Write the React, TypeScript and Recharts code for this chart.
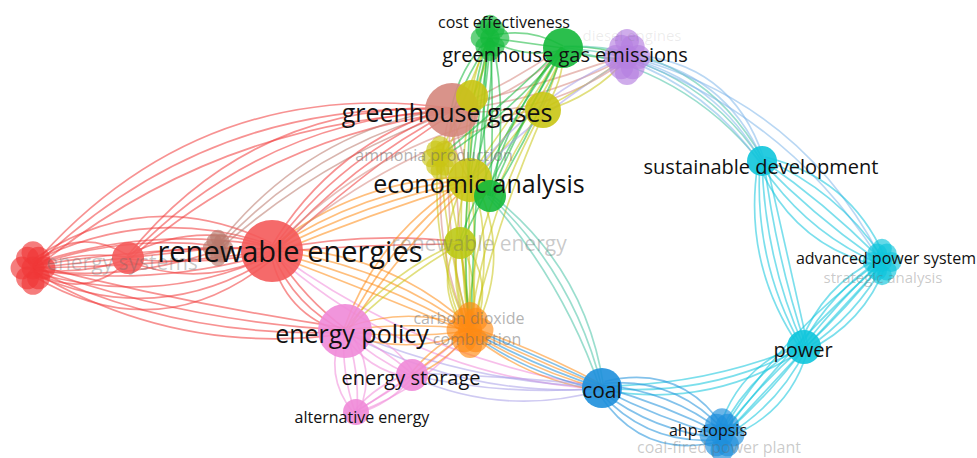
import React from 'react';
import { ScatterChart, Scatter, XAxis, YAxis } from 'recharts';

const WIDTH = 977;
const HEIGHT = 458;

const palette: Record<string, string> = {
  red: '#f03838',
  salmon: '#f45a5a',
  brown: '#b9786c',
  rose: '#d5877d',
  yellow: '#c9c514',
  lime: '#bdc916',
  green: '#14b83a',
  purple: '#b57fe0',
  cyan: '#10c5dc',
  blue: '#1d8fdb',
  orange: '#ff8a12',
  pink: '#f08ad8',
  lavender: '#a79ee8',
  teal: '#48c3a6',
  sky: '#7fb6ea',
};

// keyword nodes on the map: coordinates, weight, cluster; merged = several overlapping items
const keywords = [
  { id: 'es0', x: 33, y: 268, weight: 22, cluster: 'red', merged: true },
  { id: 'es1', x: 128, y: 258, weight: 16, cluster: 'salmon', merged: false },
  { id: 'br', x: 218, y: 248, weight: 15, cluster: 'brown', merged: true },
  { id: 're', x: 272, y: 251, weight: 31, cluster: 'salmon', merged: false },
  { id: 'gg', x: 452, y: 110, weight: 27, cluster: 'rose', merged: false },
  { id: 'y1', x: 472, y: 96, weight: 16, cluster: 'yellow', merged: false },
  { id: 'y2', x: 543, y: 110, weight: 18, cluster: 'yellow', merged: false },
  { id: 'am', x: 440, y: 158, weight: 18, cluster: 'yellow', merged: true },
  { id: 'ea', x: 470, y: 180, weight: 22, cluster: 'yellow', merged: false },
  { id: 'eg', x: 490, y: 196, weight: 16, cluster: 'green', merged: false },
  { id: 'rn', x: 460, y: 243, weight: 16, cluster: 'lime', merged: false },
  { id: 'ce', x: 490, y: 38, weight: 19, cluster: 'green', merged: true },
  { id: 'ge', x: 563, y: 48, weight: 20, cluster: 'green', merged: false },
  { id: 'de', x: 627, y: 57, weight: 23, cluster: 'purple', merged: true },
  { id: 'sd', x: 762, y: 161, weight: 15, cluster: 'cyan', merged: false },
  { id: 'ap', x: 882, y: 262, weight: 19, cluster: 'cyan', merged: true },
  { id: 'pw', x: 804, y: 347, weight: 17, cluster: 'cyan', merged: false },
  { id: 'co', x: 602, y: 388, weight: 20, cluster: 'blue', merged: false },
  { id: 'ah', x: 722, y: 435, weight: 22, cluster: 'blue', merged: true },
  { id: 'cd', x: 470, y: 330, weight: 23, cluster: 'orange', merged: true },
  { id: 'ep', x: 345, y: 331, weight: 27, cluster: 'pink', merged: false },
  { id: 'st', x: 412, y: 375, weight: 16, cluster: 'pink', merged: false },
  { id: 'ae', x: 356, y: 412, weight: 13, cluster: 'pink', merged: false },
];

// co-occurrence links: strands per pair, curvature and colour
const links = [
  { from: 'es0', to: 'es1', n: 4, bend: 0, spread: 0.25, tint: 'red' },
  { from: 'es0', to: 're', n: 9, bend: 0.03, spread: 0.08, tint: 'red' },
  { from: 'es1', to: 're', n: 4, bend: 0, spread: 0.15, tint: 'red' },
  { from: 'es0', to: 'gg', n: 3, bend: -0.22, spread: 0.05, tint: 'red' },
  { from: 'es1', to: 'gg', n: 3, bend: -0.2, spread: 0.05, tint: 'red' },
  { from: 'es0', to: 'ep', n: 4, bend: 0.1, spread: 0.05, tint: 'red' },
  { from: 'es0', to: 'br', n: 3, bend: 0, spread: 0.12, tint: 'red' },
  { from: 'br', to: 'gg', n: 3, bend: -0.15, spread: 0.05, tint: 'brown' },
  { from: 're', to: 'gg', n: 4, bend: -0.12, spread: 0.05, tint: 'red' },
  { from: 're', to: 'ea', n: 4, bend: -0.1, spread: 0.05, tint: 'orange' },
  { from: 're', to: 'cd', n: 4, bend: -0.1, spread: 0.06, tint: 'orange' },
  { from: 're', to: 'ep', n: 3, bend: 0.2, spread: 0.1, tint: 'red' },
  { from: 're', to: 'rn', n: 2, bend: -0.05, spread: 0.06, tint: 'red' },
  { from: 're', to: 'y2', n: 2, bend: -0.15, spread: 0.05, tint: 'rose' },
  { from: 're', to: 'co', n: 2, bend: 0.15, spread: 0.05, tint: 'pink' },
  { from: 'gg', to: 'de', n: 3, bend: 0.1, spread: 0.08, tint: 'rose' },
  { from: 'gg', to: 'ge', n: 2, bend: 0.1, spread: 0.1, tint: 'rose' },
  { from: 'gg', to: 'cd', n: 3, bend: 0.1, spread: 0.06, tint: 'rose' },
  { from: 'gg', to: 'ea', n: 2, bend: 0.1, spread: 0.1, tint: 'rose' },
  { from: 'ea', to: 'cd', n: 6, bend: 0, spread: 0.1, tint: 'yellow' },
  { from: 'rn', to: 'cd', n: 5, bend: 0, spread: 0.15, tint: 'yellow' },
  { from: 'y1', to: 'cd', n: 2, bend: 0.05, spread: 0.05, tint: 'yellow' },
  { from: 'y2', to: 'cd', n: 3, bend: 0.1, spread: 0.05, tint: 'yellow' },
  { from: 'am', to: 'cd', n: 3, bend: 0.05, spread: 0.08, tint: 'yellow' },
  { from: 'ea', to: 'ge', n: 3, bend: 0.05, spread: 0.06, tint: 'yellow' },
  { from: 'y2', to: 'ge', n: 2, bend: 0.1, spread: 0.1, tint: 'yellow' },
  { from: 'am', to: 'ce', n: 2, bend: 0.05, spread: 0.08, tint: 'yellow' },
  { from: 'ea', to: 'ep', n: 3, bend: 0.12, spread: 0.06, tint: 'orange' },
  { from: 'rn', to: 'ep', n: 2, bend: 0.1, spread: 0.06, tint: 'yellow' },
  { from: 'y2', to: 'de', n: 2, bend: 0.1, spread: 0.1, tint: 'yellow' },
  { from: 'y1', to: 'ce', n: 2, bend: 0, spread: 0.15, tint: 'yellow' },
  { from: 'ce', to: 'ea', n: 3, bend: 0, spread: 0.08, tint: 'green' },
  { from: 'ce', to: 'eg', n: 3, bend: -0.03, spread: 0.08, tint: 'green' },
  { from: 'ge', to: 'eg', n: 3, bend: 0.03, spread: 0.08, tint: 'green' },
  { from: 'ge', to: 'rn', n: 2, bend: 0.05, spread: 0.06, tint: 'green' },
  { from: 'ce', to: 'gg', n: 2, bend: 0.1, spread: 0.1, tint: 'green' },
  { from: 'ce', to: 'ge', n: 3, bend: 0, spread: 0.2, tint: 'green' },
  { from: 'ge', to: 'de', n: 2, bend: 0, spread: 0.2, tint: 'green' },
  { from: 'ce', to: 'cd', n: 2, bend: 0.05, spread: 0.05, tint: 'green' },
  { from: 'ge', to: 'am', n: 2, bend: -0.05, spread: 0.06, tint: 'green' },
  { from: 'ge', to: 'sd', n: 3, bend: -0.25, spread: 0.05, tint: 'teal' },
  { from: 'eg', to: 'co', n: 3, bend: -0.15, spread: 0.05, tint: 'teal' },
  { from: 'de', to: 'sd', n: 4, bend: -0.25, spread: 0.06, tint: 'sky' },
  { from: 'de', to: 'ap', n: 2, bend: -0.2, spread: 0.05, tint: 'sky' },
  { from: 'de', to: 'ea', n: 2, bend: 0.1, spread: 0.08, tint: 'lavender' },
  { from: 'sd', to: 'ap', n: 6, bend: 0, spread: 0.1, tint: 'cyan' },
  { from: 'sd', to: 'pw', n: 5, bend: 0.1, spread: 0.05, tint: 'cyan' },
  { from: 'ap', to: 'pw', n: 6, bend: 0, spread: 0.08, tint: 'cyan' },
  { from: 'pw', to: 'ah', n: 6, bend: 0, spread: 0.1, tint: 'cyan' },
  { from: 'ap', to: 'ah', n: 3, bend: 0.05, spread: 0.05, tint: 'cyan' },
  { from: 'pw', to: 'co', n: 3, bend: -0.15, spread: 0.05, tint: 'cyan' },
  { from: 'co', to: 'ah', n: 8, bend: 0, spread: 0.1, tint: 'blue' },
  { from: 'cd', to: 'co', n: 4, bend: 0.05, spread: 0.06, tint: 'orange' },
  { from: 'co', to: 'cd', n: 3, bend: -0.05, spread: 0.06, tint: 'blue' },
  { from: 'st', to: 'co', n: 3, bend: 0.08, spread: 0.1, tint: 'lavender' },
  { from: 'ep', to: 'co', n: 2, bend: 0.12, spread: 0.05, tint: 'lavender' },
  { from: 'ep', to: 'cd', n: 4, bend: 0, spread: 0.12, tint: 'orange' },
  { from: 'ep', to: 'st', n: 4, bend: 0, spread: 0.15, tint: 'pink' },
  { from: 'ep', to: 'ae', n: 4, bend: 0, spread: 0.2, tint: 'pink' },
  { from: 'st', to: 'ae', n: 3, bend: 0, spread: 0.15, tint: 'pink' },
  { from: 'ae', to: 'cd', n: 2, bend: 0.1, spread: 0.08, tint: 'pink' },
  { from: 'st', to: 'cd', n: 3, bend: 0, spread: 0.12, tint: 'orange' },
];

// keyword labels; faded ones are drawn in light grey
const labels = [
  { text: 'cost effectiveness', x: 504, y: 22, size: 16, fade: 0 },
  { text: 'greenhouse gas emissions', x: 565, y: 54, size: 20, fade: 0 },
  { text: 'diesel engines', x: 632, y: 35, size: 15, fade: 0.88 },
  { text: 'greenhouse gases', x: 447, y: 112, size: 25, fade: 0 },
  { text: 'ammonia production', x: 434, y: 155, size: 16, fade: 0.5 },
  { text: 'economic analysis', x: 479, y: 183, size: 25, fade: 0 },
  { text: 'sustainable development', x: 761, y: 166, size: 20, fade: 0 },
  { text: 'energy systems', x: 122, y: 262, size: 21, fade: 0.65 },
  { text: 'renewable energies', x: 290, y: 250, size: 29, fade: 0 },
  { text: 'renewable energy', x: 479, y: 243, size: 21, fade: 0.65 },
  { text: 'advanced power system', x: 886, y: 258, size: 16, fade: 0 },
  { text: 'strategic analysis', x: 883, y: 277, size: 15, fade: 0.65 },
  { text: 'energy policy', x: 352, y: 333, size: 25, fade: 0 },
  { text: 'carbon dioxide', x: 469, y: 318, size: 16, fade: 0.5 },
  { text: 'combustion', x: 477, y: 339, size: 16, fade: 0.5 },
  { text: 'power', x: 803, y: 349, size: 20, fade: 0 },
  { text: 'energy storage', x: 411, y: 377, size: 20, fade: 0 },
  { text: 'coal', x: 602, y: 390, size: 21, fade: 0 },
  { text: 'alternative energy', x: 362, y: 417, size: 16, fade: 0 },
  { text: 'ahp-topsis', x: 708, y: 430, size: 16, fade: 0 },
  { text: 'coal-fired power plant', x: 719, y: 447, size: 16, fade: 0.65 },
];

const byId = Object.fromEntries(keywords.map((k) => [k.id, k]));
const linkEnds = links.flatMap((l) => [
  { x: byId[l.from].x, y: byId[l.from].y },
  { x: byId[l.to].x, y: byId[l.to].y },
]);

const FONT = "'Open Sans', 'Noto Sans', sans-serif";

// offsets of the small circles that make up a merged node
const GRAPE = [
  [0, 0], [0.5, 0], [-0.5, 0], [0.25, 0.45], [-0.25, 0.45],
  [0.25, -0.45], [-0.25, -0.45], [0, 0.7], [0, -0.7],
];

function renderLinks(props: any) {
  const pts = props.points || [];
  const paths: React.ReactNode[] = [];
  links.forEach((l, i) => {
    const a = pts[2 * i];
    const b = pts[2 * i + 1];
    if (!a || !b) return;
    const dx = b.x - a.x;
    const dy = b.y - a.y;
    const len = Math.hypot(dx, dy) || 1;
    const nx = -dy / len;
    const ny = dx / len;
    for (let k = 0; k < l.n; k++) {
      const off = k - (l.n - 1) / 2;
      const bend = l.bend + off * l.spread;
      const ax = a.x + nx * off * 2;
      const ay = a.y + ny * off * 2;
      const bx = b.x + nx * off * 2;
      const by = b.y + ny * off * 2;
      const cx = (ax + bx) / 2 + nx * bend * len;
      const cy = (ay + by) / 2 + ny * bend * len;
      paths.push(
        <path
          key={`${i}-${k}`}
          d={`M${ax},${ay} Q${cx},${cy} ${bx},${by}`}
          fill="none"
          stroke={palette[l.tint]}
          strokeOpacity={0.55}
          strokeWidth={1.7}
        />
      );
    }
  });
  return <g>{paths}</g>;
}

function NodeShape(props: any) {
  const { cx, cy, payload } = props;
  const color = palette[payload.cluster];
  const r = payload.weight;
  if (payload.merged) {
    return (
      <g>
        {GRAPE.map(([ox, oy], i) => (
          <circle key={i} cx={cx + ox * r} cy={cy + oy * r} r={r * 0.52} fill={color} fillOpacity={0.65} />
        ))}
      </g>
    );
  }
  return <circle cx={cx} cy={cy} r={r} fill={color} fillOpacity={0.9} />;
}

function LabelShape(props: any) {
  const { cx, cy, payload } = props;
  return (
    <text
      x={cx}
      y={cy}
      textAnchor="middle"
      dominantBaseline="central"
      fontFamily={FONT}
      fontSize={payload.size}
      fill={payload.fade ? '#666' : '#111'}
      fillOpacity={payload.fade ? 1 - payload.fade : 1}
    >
      {payload.text}
    </text>
  );
}

export default function App() {
  return (
    <div style={{ position: 'absolute', left: 0, top: 0, width: WIDTH, height: HEIGHT, background: '#fff' }}>
      <ScatterChart width={WIDTH} height={HEIGHT} margin={{ top: 0, right: 0, bottom: 0, left: 0 }}>
        <XAxis type="number" dataKey="x" domain={[0, WIDTH]} hide allowDataOverflow />
        <YAxis type="number" dataKey="y" domain={[0, HEIGHT]} reversed hide allowDataOverflow />
        <Scatter
          data={linkEnds}
          line={renderLinks}
          lineType="joint"
          shape={() => <g />}
          isAnimationActive={false}
        />
        <Scatter data={keywords} shape={NodeShape} isAnimationActive={false} />
        <Scatter data={labels} shape={LabelShape} isAnimationActive={false} />
      </ScatterChart>
    </div>
  );
}
